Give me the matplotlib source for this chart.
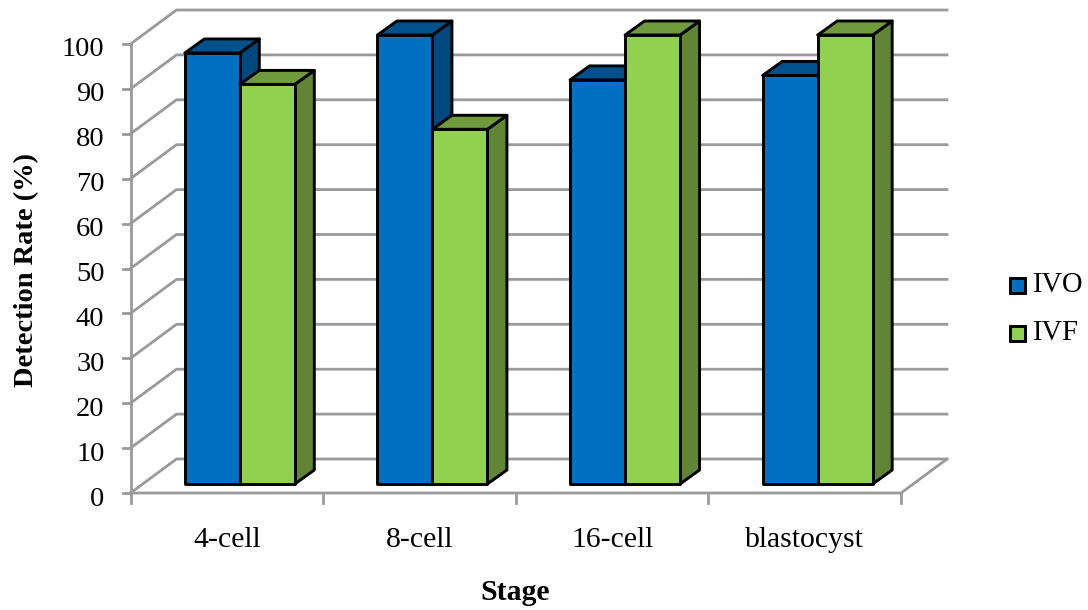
import matplotlib
matplotlib.use("Agg")
import matplotlib.pyplot as plt
from matplotlib.patches import Polygon, Rectangle

plt.rcParams['font.family'] = ['Liberation Serif', 'DejaVu Serif']

stages = ["4-cell", "8-cell", "16-cell", "blastocyst"]
ivo = [96, 100, 90, 91]
ivf = [89, 79, 100, 100]
yticks = list(range(0, 101, 10))

W, H = 1088, 610
fig = plt.figure(figsize=(W / 100, H / 100), dpi=100)
ax = fig.add_axes([130.5 / W, (H - 493) / H, 770.5 / W, 449 / H])
ax.set_xlim(0, 4)
ax.set_ylim(0, 100)
ax.axis("off")

# pixel sizes converted to data units
px = 4 / 770.5
py = 100 / 449
wall_dx, wall_dy = 46 * px, 34 * py
shift_x, shift_y = 13 * px, 9 * py
depth_x, depth_y = 19.5 * px, 14 * py
bar_w = 55 * px

grid = "#9a9a9a"
for v in yticks:
    ax.plot([0, wall_dx, 4 + wall_dx], [v, v + wall_dy, v + wall_dy],
            color=grid, lw=2, clip_on=False, zorder=1, solid_joinstyle="miter")
    ax.plot([-8 * px, 0], [v, v], color=grid, lw=2, clip_on=False, zorder=1)
    ax.text(-26 * px, v - 3 * py, str(v), ha="right", va="center_baseline", fontsize=20.5)

# floor edges and front axis
ax.plot([0, 0], [-1 * py, 100], color=grid, lw=2, clip_on=False, zorder=1)
ax.plot([0, 4, 4 + wall_dx], [0, 0, wall_dy], color=grid, lw=2, clip_on=False, zorder=1,
        solid_joinstyle="miter")
for i in range(5):
    ax.plot([i, i], [0, -10 * py], color=grid, lw=2, clip_on=False, zorder=1)


def bar3d(x, v, front, top, side, z):
    y0 = shift_y
    y1 = v + shift_y
    x0 = x
    x1 = x + bar_w
    dx, dy = depth_x, depth_y
    kw = dict(edgecolor="black", lw=2.1, joinstyle="round", clip_on=False, zorder=z)
    ax.add_patch(Polygon([(x1, y0), (x1 + dx, y0 + dy), (x1 + dx, y1 + dy), (x1, y1)],
                         facecolor=side, **kw))
    ax.add_patch(Polygon([(x0, y1), (x0 + dx, y1 + dy), (x1 + dx, y1 + dy), (x1, y1)],
                         facecolor=top, **kw))
    ax.add_patch(Rectangle((x0, y0), bar_w, v, facecolor=front, **kw))


blue = ("#0070c0", "#00518c", "#00487d")
green = ("#92d050", "#6f9b3c", "#5f8535")
for i, (a, b) in enumerate(zip(ivo, ivf)):
    center = i + 0.5 + shift_x
    bar3d(center - bar_w, a, *blue, 3 + i * 2)
    bar3d(center, b, *green, 4 + i * 2)
    ax.text(i + 0.5, -47 * py, stages[i], ha="center", va="center", fontsize=21.4)

fig.text(515 / W, 1 - 593 / H, "Stage", ha="center", va="center",
         fontsize=21.4, fontweight="bold")
fig.text(27 / W, 1 - 270 / H, "Detection Rate (%)", ha="center", va="center",
         rotation=90, fontsize=20.5, fontweight="bold")

# legend
for label, color, y in [("IVO", blue[0], 285), ("IVF", green[0], 333)]:
    fig.add_artist(Rectangle((1010 / W, 1 - (y + 7.5) / H), 15 / W, 15 / H, facecolor=color,
                             edgecolor="black", lw=2.1, transform=fig.transFigure))
    fig.text(1032 / W, 1 - y / H, label, ha="left", va="center", fontsize=20.6)

fig.savefig("out.png", dpi=100)
